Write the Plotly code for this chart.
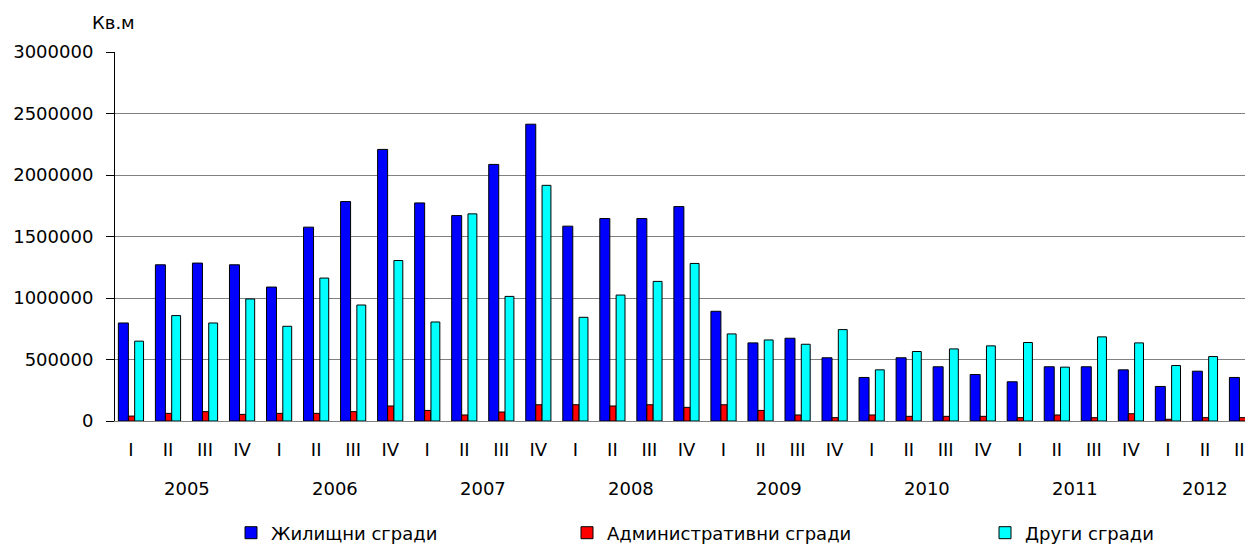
import plotly.graph_objects as go

quarters = ["I", "II", "III", "IV"] * 7 + ["I", "II", "III"]
years = ["2005", "2006", "2007", "2008", "2009", "2010", "2011", "2012"]
quarters_per_year = [4, 4, 4, 4, 4, 4, 4, 3]

residential = [797000, 1270000, 1284000, 1270000, 1089000, 1576000, 1784000, 2208000,
               1773000, 1670000, 2086000, 2413000, 1584000, 1646000, 1646000, 1743000,
               892000, 635000, 673000, 514000, 354000, 514000, 441000, 378000,
               319000, 441000, 441000, 416000, 281000, 405000, 354000]
administrative = [40000, 62000, 76000, 54000, 62000, 62000, 76000, 122000,
                  86000, 49000, 73000, 132000, 132000, 122000, 132000, 111000,
                  132000, 86000, 49000, 27000, 49000, 38000, 38000, 38000,
                  27000, 49000, 27000, 59000, 14000, 27000, 27000]
other = [649000, 857000, 797000, 992000, 770000, 1162000, 943000, 1305000,
         805000, 1684000, 1013000, 1916000, 843000, 1024000, 1135000, 1281000,
         708000, 659000, 624000, 743000, 416000, 565000, 586000, 611000,
         638000, 438000, 684000, 635000, 451000, 524000, 597000]

series_names = ["Жилищни сгради", "Административни сгради", "Други сгради"]
y_ticks = [0, 500000, 1000000, 1500000, 2000000, 2500000, 3000000]
y_ticktext = ["0", "500000", "1000000", "1500000", "2000000", "2500000", "3000000"]
unit_label = "Кв.м"

FONT = "DejaVu Sans"
FS = 18
W, H = 1245, 538   # page adds an 8px body margin
idx = list(range(len(quarters)))

fig = go.Figure()
specs = [
    (residential, "#0000FF", -0.34, 0.27, "legend"),
    (administrative, "#FF0000", -0.07, 0.17, "legend2"),
    (other, "#00FFFF", 0.10, 0.24, "legend3"),
]
for (vals, color, off, w, leg), name in zip(specs, series_names):
    fig.add_trace(go.Bar(
        x=idx, y=vals, name=name, offset=off, width=w,
        marker=dict(color=color, line=dict(color="black", width=1)),
        legend=leg, showlegend=True,
    ))

annotations = []
start = 0
for yr, n in zip(years, quarters_per_year):
    center = start + (n - 1) / 2
    annotations.append(dict(x=center, y=-0.1816, xref="x", yref="paper", text=yr,
                            showarrow=False, xanchor="center", yanchor="middle",
                            font=dict(family=FONT, size=FS, color="black")))
    start += n
annotations.append(dict(x=-0.001, y=1.0813, xref="paper", yref="paper", text=unit_label,
                        showarrow=False, xanchor="center", yanchor="middle",
                        font=dict(family=FONT, size=FS, color="black")))

leg_common = dict(orientation="h", xref="container", yref="container",
                  y=(H - 525) / H, yanchor="middle", xanchor="left",
                  font=dict(family=FONT, size=FS, color="black"),
                  bgcolor="rgba(0,0,0,0)", itemwidth=30)

fig.update_layout(
    width=W, height=H, autosize=False,
    margin=dict(l=107, r=0, t=44, b=125, pad=0),
    paper_bgcolor="white", plot_bgcolor="white",
    barmode="overlay", showlegend=True,
    font=dict(family=FONT, size=FS, color="black"),
    annotations=annotations,
    legend=dict(x=223 / W, **leg_common),
    legend2=dict(x=559 / W, **leg_common),
    legend3=dict(x=977 / W, **leg_common),
    xaxis=dict(range=[-0.431, 30.297], tickvals=idx, ticktext=quarters,
               showline=True, linecolor="#808080", linewidth=1,
               ticks="", showgrid=False, zeroline=False, automargin=False,
               ticklabelstandoff=12,
               tickfont=dict(family=FONT, size=FS, color="black")),
    yaxis=dict(range=[0, 3000000], tickvals=y_ticks, ticktext=y_ticktext,
               showline=True, linecolor="black", linewidth=1,
               ticks="outside", ticklen=8, tickcolor="black",
               showgrid=True, gridcolor="#808080", gridwidth=1,
               zeroline=False, ticklabelstandoff=9, automargin=False,
               tickfont=dict(family=FONT, size=FS, color="black")),
)

fig.write_html("out.html")
